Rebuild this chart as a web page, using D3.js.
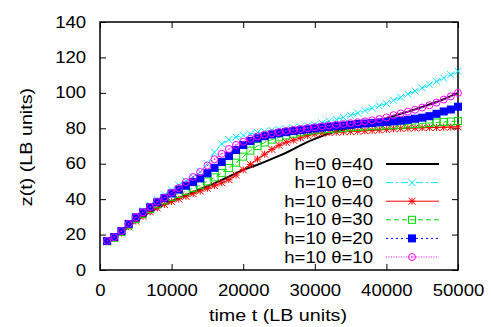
<!DOCTYPE html>
<html lang="en">
<head>
<meta charset="UTF-8">
<title>z(t) vs time</title>
<script src="https://cdn.jsdelivr.net/npm/d3@7"></script>
<style>
  body { margin: 0; background: #fff; }
  svg text { font-family: "Liberation Sans", Arial, Helvetica, sans-serif; fill: #000; }
</style>
</head>
<body>
<svg id="chart" width="491" height="327"></svg>
<script>
// time in LB units, one sample every 1000 steps
const time = [1000, 2000, 3000, 4000, 5000, 6000, 7000, 8000, 9000, 10000,
  11000, 12000, 13000, 14000, 15000, 16000, 17000, 18000, 19000, 20000,
  21000, 22000, 23000, 24000, 25000, 26000, 27000, 28000, 29000, 30000,
  31000, 32000, 33000, 34000, 35000, 36000, 37000, 38000, 39000, 40000,
  41000, 42000, 43000, 44000, 45000, 46000, 47000, 48000, 49000, 50000];

// z(t) for each run
const h0t40 = [16.0, 17.9, 20.9, 24.4, 27.6, 30.3, 32.8, 35.0, 37.0, 38.8,
  40.5, 42.2, 43.9, 45.6, 47.3, 49.0, 50.8, 52.7, 54.7, 56.5,
  58.0, 59.4, 61.0, 62.7, 64.4, 66.2, 68.2, 70.3, 72.3, 74.0,
  75.6, 77.1, 78.3, 79.3, 80.1, 81.1, 82.2, 83.4, 84.6, 85.7,
  86.9, 88.2, 89.4, 90.7, 92.0, 93.4, 94.8, 96.4, 98.2, 100.0];
const h10t0 = [16.6, 18.9, 22.4, 26.5, 30.4, 33.5, 36.7, 39.8, 42.4, 45.2,
  47.9, 50.3, 52.5, 55.5, 60.0, 66.5, 71.2, 73.6, 75.0, 76.0,
  76.8, 77.6, 78.2, 78.8, 79.3, 79.8, 80.3, 80.8, 81.4, 82.1,
  83.0, 84.0, 85.0, 86.1, 87.3, 88.6, 90.0, 91.4, 92.7, 94.0,
  95.8, 97.5, 99.3, 101.0, 102.8, 104.6, 106.5, 108.4, 110.3, 112.2];
const h10t40 = [16.0, 17.9, 20.9, 24.4, 27.6, 30.3, 32.8, 35.0, 37.0, 38.6,
  40.1, 41.6, 43.1, 44.6, 46.1, 47.6, 49.2, 51.0, 53.6, 56.6,
  59.6, 62.6, 65.4, 68.1, 70.4, 72.1, 73.3, 74.6, 75.9, 76.8,
  77.3, 77.6, 77.8, 78.0, 78.2, 78.4, 78.6, 78.8, 79.1, 79.4,
  79.7, 79.9, 80.1, 80.2, 80.3, 80.4, 80.5, 80.6, 80.7, 80.8];
const h10t30 = [16.2, 18.2, 21.4, 25.2, 28.8, 31.6, 34.4, 37.1, 39.3, 41.3,
  42.9, 44.5, 46.2, 47.9, 50.0, 52.3, 54.8, 57.6, 60.6, 64.0,
  67.4, 70.0, 72.0, 73.6, 74.9, 76.0, 76.9, 77.7, 78.4, 78.9,
  79.3, 79.6, 79.9, 80.2, 80.5, 80.8, 81.0, 81.2, 81.4, 81.6,
  81.8, 82.0, 82.2, 82.4, 82.7, 83.0, 83.3, 83.6, 83.8, 84.1];
const h10t20 = [16.4, 18.6, 22.0, 26.0, 29.7, 32.5, 35.4, 38.3, 40.6, 43.2,
  45.4, 47.6, 49.6, 51.7, 54.6, 57.7, 61.0, 64.4, 67.7, 70.6,
  72.8, 74.3, 75.5, 76.5, 77.2, 77.8, 78.4, 78.9, 79.4, 79.9,
  80.4, 80.8, 81.2, 81.6, 82.0, 82.4, 82.7, 83.0, 83.3, 83.6,
  83.9, 84.3, 84.8, 85.4, 86.0, 86.8, 88.2, 89.5, 90.6, 92.2];
const h10t10 = [16.4, 18.6, 22.0, 26.0, 29.8, 32.6, 35.6, 38.6, 40.9, 43.6,
  46.3, 49.6, 52.5, 55.3, 59.0, 62.5, 65.6, 68.3, 70.6, 72.4,
  74.0, 75.4, 76.4, 77.2, 77.9, 78.5, 79.1, 79.6, 80.1, 80.6,
  81.1, 81.6, 82.0, 82.4, 82.9, 83.4, 83.9, 84.5, 85.2, 86.1,
  87.4, 88.4, 89.4, 90.5, 91.7, 93.0, 94.5, 96.2, 98.0, 100.0];

const xTicks = [0, 10000, 20000, 30000, 40000, 50000];
const yTicks = [0, 20, 40, 60, 80, 100, 120, 140];

const seriesNames = ["h=0 \u03b8=40", "h=10 \u03b8=0", "h=10 \u03b8=40",
  "h=10 \u03b8=30", "h=10 \u03b8=20", "h=10 \u03b8=10"];
const seriesValues = [h0t40, h10t0, h10t40, h10t30, h10t20, h10t10];

// look of each run (gnuplot style)
const styles = [
  { color: "#000000", width: 2, dash: null, mark: null },
  { color: "#00e5ff", width: 1, dash: "7,3,2,3", mark: "cross" },
  { color: "#ff0000", width: 1, dash: null, mark: "star" },
  { color: "#00dd00", width: 1, dash: "5,3", mark: "box" },
  { color: "#0000ff", width: 1, dash: "2,3", mark: "fbox" },
  { color: "#ff00ff", width: 1, dash: "1,1.5", mark: "circle" }
];

const svg = d3.select("#chart");
const x = d3.scaleLinear().domain([0, 50000]).range([100, 458]);
const y = d3.scaleLinear().domain([0, 140]).range([270, 22]);

// the source font is a bit wider than Liberation Sans
const stretch = "scale(1.16,1)";

// axes, ticks pointing inwards
svg.append("g")
  .attr("transform", "translate(0,270)")
  .call(d3.axisBottom(x).tickValues(xTicks).tickFormat(d3.format("d"))
    .tickSizeInner(-6).tickSizeOuter(0).tickPadding(15))
  .call(g => g.select(".domain").remove());
svg.append("g")
  .attr("transform", "translate(0,22)")
  .call(d3.axisTop(x).tickValues(xTicks).tickFormat("")
    .tickSizeInner(-6).tickSizeOuter(0))
  .call(g => g.select(".domain").remove());
svg.append("g")
  .attr("transform", "translate(100,0)")
  .call(d3.axisLeft(y).tickValues(yTicks)
    .tickSizeInner(-6).tickSizeOuter(0).tickPadding(12))
  .call(g => g.select(".domain").remove());
svg.append("g")
  .attr("transform", "translate(458,0)")
  .call(d3.axisRight(y).tickValues(yTicks).tickFormat("")
    .tickSizeInner(-6).tickSizeOuter(0))
  .call(g => g.select(".domain").remove());

svg.selectAll(".tick line").attr("stroke", "#000").attr("stroke-width", 1);
svg.selectAll(".tick text")
  .attr("font-size", 16)
  .attr("transform", stretch);

// frame
svg.append("rect")
  .attr("x", x(0)).attr("y", y(140))
  .attr("width", x(50000) - x(0)).attr("height", y(0) - y(140))
  .attr("fill", "none").attr("stroke", "#000").attr("stroke-width", 1.5);

// axis titles
svg.append("text")
  .attr("transform", "translate(278,321) " + stretch)
  .attr("text-anchor", "middle").attr("font-size", 17)
  .text("time t (LB units)");
svg.append("text")
  .attr("transform", "translate(32,147) rotate(-90) " + stretch)
  .attr("text-anchor", "middle").attr("font-size", 17)
  .text("z(t) (LB units)");

// draws one marker shape into a group centred at 0,0
function drawMark(g, type, color) {
  const r = 3.5;
  if (type === "cross" || type === "star") {
    g.append("path").attr("d", `M${-r},${-r}L${r},${r}M${-r},${r}L${r},${-r}`)
      .attr("stroke", color).attr("stroke-width", 1).attr("fill", "none");
  }
  if (type === "star") {
    g.append("path").attr("d", `M${-r},0L${r},0M0,${-r}L0,${r}`)
      .attr("stroke", color).attr("stroke-width", 1).attr("fill", "none");
  }
  if (type === "box" || type === "fbox") {
    g.append("rect").attr("x", -r).attr("y", -r).attr("width", 2 * r).attr("height", 2 * r)
      .attr("stroke", color).attr("stroke-width", 1)
      .attr("fill", type === "fbox" ? color : "none");
  }
  if (type === "circle") {
    g.append("circle").attr("r", r).attr("stroke", color).attr("stroke-width", 1).attr("fill", "none");
    g.append("circle").attr("r", 0.8).attr("fill", color);
  }
}

const line = d3.line().x(d => x(d.t)).y(d => y(d.v));

seriesValues.forEach((vals, i) => {
  const st = styles[i];
  const pts = time.map((t, k) => ({ t: t, v: vals[k] }));
  const g = svg.append("g");
  g.append("path")
    .attr("d", line(pts))
    .attr("fill", "none")
    .attr("stroke", st.color)
    .attr("stroke-width", st.width)
    .attr("stroke-dasharray", st.dash);
  if (st.mark) {
    g.selectAll("g.pt")
      .data(pts)
      .join("g")
      .attr("class", "pt")
      .attr("transform", d => `translate(${x(d.t)},${y(d.v)})`)
      .each(function () { drawMark(d3.select(this), st.mark, st.color); });
  }
});

// legend, top right under the curves
const legend = svg.append("g");
seriesNames.forEach((name, i) => {
  const st = styles[i];
  const ly = 164 + i * 18.6;
  legend.append("text")
    .attr("transform", `translate(373,${ly + 5.5}) ` + stretch)
    .attr("text-anchor", "end").attr("font-size", 16)
    .text(name);
  legend.append("line")
    .attr("x1", 386).attr("x2", 439).attr("y1", ly).attr("y2", ly)
    .attr("stroke", st.color).attr("stroke-width", st.width)
    .attr("stroke-dasharray", st.dash);
  if (st.mark) {
    drawMark(legend.append("g").attr("transform", `translate(412,${ly})`), st.mark, st.color);
  }
});
</script>
</body>
</html>
